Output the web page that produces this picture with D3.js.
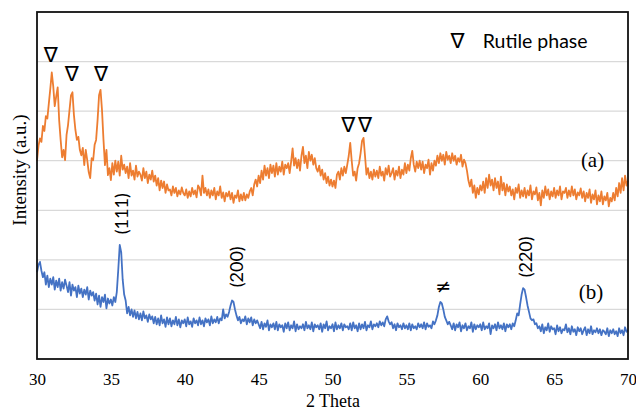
<!DOCTYPE html>
<html>
<head>
<meta charset="utf-8">
<script src="https://cdn.jsdelivr.net/npm/d3@7"></script>
<style>
  body { margin: 0; background: #fff; }
  svg { display: block; }
</style>
</head>
<body>
<div id="chart"></div>
<script>
// XRD patterns, 2 Theta from 30 to 70 in 0.1 steps
var thetaStart = 30, thetaStep = 0.1;

// (a) orange pattern, one row per degree
var seriesA = [
  400, 430, 445, 438, 470, 460, 490, 485, 515, 545,
  578, 550, 510, 530, 548, 482, 442, 407, 422, 401,
  452, 472, 502, 532, 538, 492, 462, 442, 448, 422,
  411, 426, 391, 422, 401, 377, 365, 405, 401, 432,
  442, 482, 532, 543, 502, 442, 391, 422, 371, 385,
  361, 395, 372, 400, 378, 398, 370, 410, 382, 392,
  375, 388, 365, 395, 370, 380, 362, 390, 368, 378,
  372, 360, 385, 365, 378, 355, 372, 362, 380, 358,
  370, 350, 365, 340, 360, 345, 358, 335, 352, 340,
  342, 330, 348, 335, 345, 328, 340, 332, 346, 335,
  330, 342, 325, 338, 328, 345, 332, 340, 326, 350,
  345, 330, 370, 335, 345, 330, 342, 325, 340, 330,
  345, 322, 338, 330, 348, 325, 336, 318, 335, 328,
  338, 322, 335, 315, 330, 325, 340, 318, 332, 320,
  335, 320, 332, 325, 338, 345, 330, 352, 362, 348,
  370, 355, 380, 362, 390, 370, 385, 365, 392, 375,
  390, 368, 395, 372, 388, 378, 398, 372, 392, 385,
  395, 375, 398, 425, 390, 405, 385, 402, 380, 410,
  428, 395, 410, 385, 418, 400, 412, 392, 405, 385,
  378, 390, 370, 382, 362, 375, 355, 368, 350, 362,
  348, 360, 345, 372, 378, 362, 385, 370, 388, 375,
  392, 410, 436, 400, 370, 378, 360, 385, 395, 415,
  440, 446, 410, 372, 385, 365, 378, 362, 382, 368,
  380, 365, 388, 370, 378, 360, 385, 372, 390, 368,
  375, 385, 362, 380, 370, 388, 365, 382, 372, 395,
  375, 392, 380, 405, 420, 392, 378, 398, 385, 400,
  382, 398, 375, 392, 385, 402, 372, 395, 380, 400,
  390, 410, 395, 415, 400, 412, 392, 418, 402, 410,
  395, 415, 400, 410, 392, 405, 398, 412, 388, 402,
  395, 380, 360, 348, 362, 335, 350, 325, 345, 332,
  350, 340, 358, 335, 365, 345, 372, 350, 362, 340,
  365, 345, 358, 332, 368, 340, 355, 330, 352, 338,
  348, 330, 342, 322, 345, 335, 352, 325, 340, 328,
  345, 325, 340, 330, 350, 322, 338, 332, 346, 320,
  335, 310, 340, 325, 348, 330, 342, 322, 338, 328,
  345, 325, 340, 330, 348, 322, 338, 335, 345, 325,
  340, 328, 348, 330, 342, 322, 336, 330, 344, 325,
  338, 318, 335, 325, 342, 315, 332, 322, 340, 312,
  330, 318, 338, 312, 328, 320, 335, 308, 325, 318,
  335, 320, 345, 328, 355, 335, 365, 340, 370, 350,
  360
];

// (b) blue pattern
var seriesB = [
  175, 190, 196, 178, 165, 175, 150, 168, 145, 162,
  150, 165, 140, 158, 145, 162, 138, 155, 142, 160,
  148, 135, 155, 128, 150, 138, 145, 125, 148, 132,
  142, 125, 140, 130, 145, 120, 138, 128, 135, 118,
  132, 110, 128, 105, 125, 115, 130, 102, 122, 112,
  120, 108, 125, 115, 135, 180, 230, 215, 160, 130,
  118, 92, 105, 88, 100, 85, 98, 82, 95, 80,
  92, 78, 96, 82, 88, 75, 90, 80, 86, 72,
  85, 70, 82, 68, 88, 72, 80, 65, 84, 70,
  82, 66, 78, 70, 85, 68, 80, 64, 78, 72,
  80, 66, 84, 70, 76, 65, 82, 72, 78, 68,
  84, 70, 78, 66, 82, 74, 80, 68, 86, 72,
  80, 74, 85, 72, 82, 78, 100, 82, 90, 85,
  95, 108, 118, 115, 100, 88, 78, 85, 72, 80,
  76, 86, 70, 82, 74, 84, 68, 80, 72, 78,
  70, 62, 75, 60, 72, 65, 78, 58, 70, 64,
  72, 60, 75, 58, 70, 64, 68, 55, 72, 62,
  74, 58, 68, 62, 76, 56, 70, 60, 66, 62,
  70, 58, 75, 62, 68, 60, 74, 56, 70, 64,
  68, 60, 72, 55, 70, 62, 76, 58, 66, 62,
  70, 56, 74, 60, 68, 62, 72, 58, 70, 64,
  66, 60, 72, 58, 74, 62, 68, 56, 72, 60,
  70, 62, 75, 58, 68, 64, 76, 60, 70, 66,
  72, 64, 76, 68, 74, 66, 80, 86, 76, 70,
  74, 62, 70, 58, 72, 64, 68, 60, 72, 62,
  68, 60, 72, 58, 70, 62, 66, 60, 72, 64,
  70, 62, 74, 60, 72, 65, 68, 62, 76, 70,
  78, 88, 105, 115, 112, 100, 85, 78, 70, 75,
  68, 60, 72, 58, 70, 64, 74, 56, 68, 62,
  72, 58, 66, 62, 74, 55, 70, 60, 68, 64,
  70, 58, 74, 60, 66, 62, 72, 50, 68, 62,
  70, 58, 74, 62, 68, 60, 72, 56, 70, 64,
  70, 60, 72, 66, 78, 92, 88, 110, 130, 143,
  140, 125, 108, 95, 82, 78, 80, 70, 72, 62,
  66, 56, 70, 52, 64, 58, 72, 55, 66, 60,
  62, 50, 68, 56, 64, 52, 60, 58, 70, 54,
  62, 50, 66, 55, 60, 48, 64, 56, 62, 50,
  58, 64, 48, 60, 52, 66, 50, 58, 54, 62,
  52, 60, 48, 58, 55, 50, 62, 46, 58, 52,
  60, 50, 56, 46, 62, 52, 58, 48, 64, 55,
  58
];

var xTicks = [30, 35, 40, 45, 50, 55, 60, 65, 70];
var gridValues = [100, 200, 300, 400, 500, 600];

// rutile markers over pattern (a): [2 theta, intensity]
var rutileMarks = [[30.93, 613], [32.35, 575], [34.33, 575], [51.07, 472], [52.2, 472]];
// hkl labels over pattern (b)
var hklLabels = [
  { text: "(111)", x: 35.67, y: 293 },
  { text: "(200)", x: 43.47, y: 186 },
  { text: "(220)", x: 63.05, y: 206 }
];

var svgWidth = 636, svgHeight = 410;
var margin = { top: 12, right: 8, bottom: 51, left: 37 };

var svg = d3.select("#chart").append("svg")
  .attr("width", svgWidth)
  .attr("height", svgHeight);

var x = d3.scaleLinear().domain([30, 70]).range([margin.left, svgWidth - margin.right]);
var y = d3.scaleLinear().domain([0, 700]).range([svgHeight - margin.bottom, margin.top]);

var serif = "'Liberation Serif', 'Times New Roman', serif";
var sans = "Lato, 'Open Sans', sans-serif";

// gridlines
svg.append("g").selectAll("line")
  .data(gridValues).enter().append("line")
  .attr("x1", x(30)).attr("x2", x(70))
  .attr("y1", d => y(d)).attr("y2", d => y(d))
  .attr("stroke", "#d9d9d9")
  .attr("stroke-width", 1.2);

// lines
var line = d3.line()
  .x((d, i) => x(thetaStart + i * thetaStep))
  .y(d => y(d));

svg.append("path").datum(seriesA)
  .attr("fill", "none")
  .attr("stroke", "#ED7D31")
  .attr("stroke-width", 1.8)
  .attr("stroke-linejoin", "round")
  .attr("d", line);

svg.append("path").datum(seriesB)
  .attr("fill", "none")
  .attr("stroke", "#4472C4")
  .attr("stroke-width", 1.8)
  .attr("stroke-linejoin", "round")
  .attr("d", line);

// frame
svg.append("rect")
  .attr("x", x(30)).attr("y", y(700))
  .attr("width", x(70) - x(30)).attr("height", y(0) - y(700))
  .attr("fill", "none")
  .attr("stroke", "#111")
  .attr("stroke-width", 1.8);

// x axis labels
var xAxis = svg.append("g")
  .attr("transform", `translate(0, ${y(0)})`)
  .call(d3.axisBottom(x).tickValues(xTicks).tickSize(0).tickPadding(0));
xAxis.select(".domain").remove();
xAxis.selectAll("text")
  .attr("y", 21)
  .attr("dy", "0.32em")
  .style("font-family", serif)
  .style("font-size", "17px")
  .style("fill", "#000");

svg.append("text")
  .attr("x", 333)
  .attr("y", 407)
  .attr("text-anchor", "middle")
  .style("font-family", serif)
  .style("font-size", "18px")
  .text("2 Theta");

svg.append("text")
  .attr("transform", "translate(19, 170) rotate(-90)")
  .attr("text-anchor", "middle")
  .attr("dominant-baseline", "central")
  .style("font-family", serif)
  .style("font-size", "19px")
  .text("Intensity (a.u.)");

// rutile markers
svg.append("g").selectAll("text")
  .data(rutileMarks).enter().append("text")
  .attr("x", d => x(d[0]))
  .attr("y", d => y(d[1]))
  .attr("text-anchor", "middle")
  .attr("dominant-baseline", "central")
  .style("font-family", "'DejaVu Sans', sans-serif")
  .style("font-size", "21px")
  .text("\u2207");

// legend
svg.append("text")
  .attr("x", x(58.47)).attr("y", y(642))
  .attr("text-anchor", "middle")
  .attr("dominant-baseline", "central")
  .style("font-family", "'DejaVu Sans', sans-serif")
  .style("font-size", "21px")
  .text("\u2207");
svg.append("text")
  .attr("x", x(60.17)).attr("y", y(642))
  .attr("dominant-baseline", "central")
  .style("font-family", sans)
  .style("font-size", "19.5px")
  .text("Rutile phase");

// hkl labels
svg.append("g").selectAll("text")
  .data(hklLabels).enter().append("text")
  .attr("transform", d => `translate(${x(d.x)}, ${y(d.y)}) rotate(-90)`)
  .attr("text-anchor", "middle")
  .attr("dominant-baseline", "central")
  .style("font-family", sans)
  .style("font-size", "18px")
  .text(d => d.text);

svg.append("text")
  .attr("x", x(57.5)).attr("y", y(147))
  .attr("text-anchor", "middle")
  .attr("dominant-baseline", "central")
  .style("font-family", "'DejaVu Sans', sans-serif")
  .style("font-size", "19px")
  .text("\u2260");

// pattern labels
svg.append("text")
  .attr("x", x(67.6)).attr("y", y(401))
  .attr("text-anchor", "middle")
  .attr("dominant-baseline", "central")
  .style("font-family", serif)
  .style("font-size", "21px")
  .text("(a)");
svg.append("text")
  .attr("x", x(67.5)).attr("y", y(135))
  .attr("text-anchor", "middle")
  .attr("dominant-baseline", "central")
  .style("font-family", serif)
  .style("font-size", "21px")
  .text("(b)");
</script>
</body>
</html>
